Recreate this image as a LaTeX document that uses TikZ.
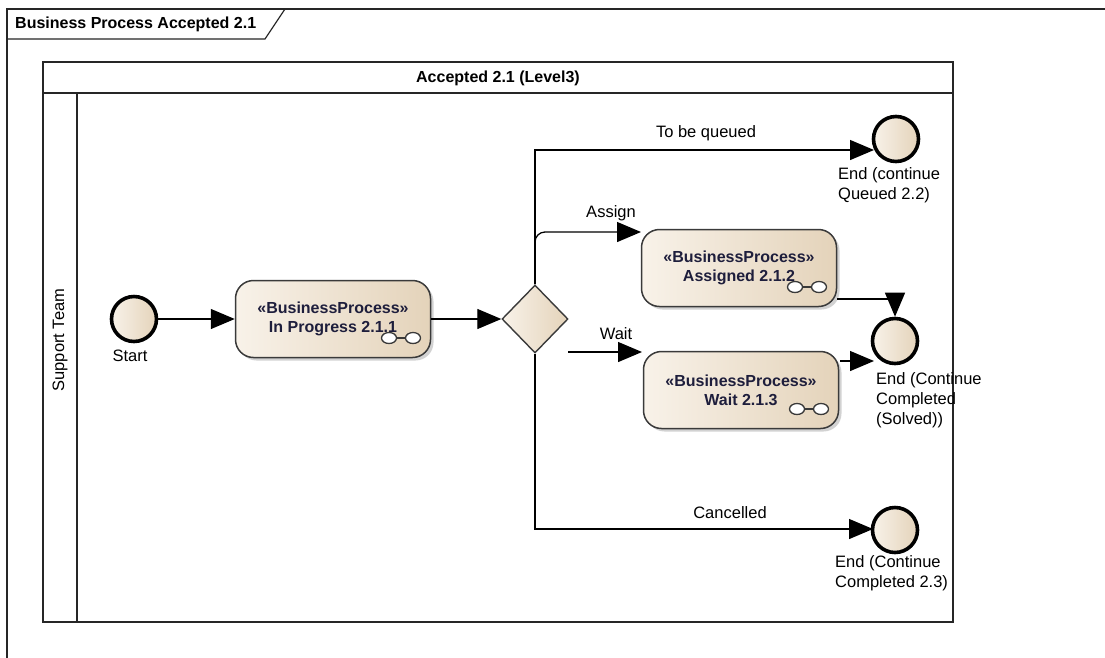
\documentclass[tikz,border=0pt]{standalone}
\usepackage{fontspec}
\setmainfont{Liberation Sans}
\usetikzlibrary{arrows.meta,shapes.geometric,shadows,calc}
\definecolor{bpline}{HTML}{3A3A3A}
\definecolor{bplight}{HTML}{F8F2E9}
\definecolor{bpdark}{HTML}{E4D3BA}
\definecolor{bptext}{HTML}{1E1E3C}
\begin{document}
\begin{tikzpicture}[x=1pt,y=-1pt,
  every node/.style={font=\fontsize{16.5}{19}\selectfont},
  frameline/.style={draw=black!85,line width=1.2pt},
  flow/.style={draw=black,line width=1.3pt,-{Triangle[length=24pt,width=20pt]}},
  event/.style={circle,draw=black,line width=3.6pt,minimum size=45pt,inner sep=0pt,
    left color=bplight,right color=bpdark},
  bpbox/.style={rectangle,rounded corners=18pt,draw=bpline,line width=1.5pt,
    minimum width=195pt,minimum height=77pt,align=center,text=bptext,
    font=\fontsize{16}{19}\selectfont\bfseries,
    left color=bplight,right color=bpdark,
    drop shadow={shadow xshift=3pt,shadow yshift=-3pt,opacity=0.35}},
  gate/.style={diamond,draw=bpline,line width=1.4pt,minimum width=66pt,minimum height=68pt,
    inner sep=0pt,left color=bplight,right color=bpdark},
  lbl/.style={text=black,inner sep=0pt},
  endlbl/.style={text=black,inner sep=0pt,align=left,anchor=north west,
    font=\fontsize{16.5}{20}\selectfont}]
\useasboundingbox (0,0) rectangle (1105,657);
\fill[white] (0,0) rectangle (1105,657);

% outer diagram frame with its name tab
\draw[frameline] (7,660) -- (7,9) -- (1110,9);
\draw[frameline] (7,39) -- (265,39) -- (285,9);
\node[lbl,anchor=west,font=\fontsize{16}{18}\selectfont\bfseries] (title) at (15,24) {Business Process Accepted 2.1};

% pool with its header and the lane
\draw[frameline] (43,62) rectangle (953,622);
\draw[frameline] (43,93) -- (953,93);
\draw[frameline] (77,93) -- (77,622);
\node[lbl,font=\fontsize{16}{18}\selectfont\bfseries] (pool) at (498,78) {Accepted 2.1 (Level3)};
\node[lbl,rotate=90] (lane) at (60,340) {Support Team};

% flow elements
\node[event] (start) at (134,319) {};
\node[lbl] (startlbl) at (130,356) {Start};

\node[bpbox] (inprog) at (333,319) {«BusinessProcess»\\In Progress 2.1.1};
\node[gate] (dia) at (535,319) {};
\node[bpbox] (assigned) at (739,268) {«BusinessProcess»\\Assigned 2.1.2};
\node[bpbox] (wait) at (741,390) {«BusinessProcess»\\Wait 2.1.3};

\node[event] (end1) at (896,139) {};
\node[endlbl] (end1lbl) at (838,167) {End (continue\\Queued 2.2)};
\node[event] (end2) at (895,341) {};
\node[endlbl] (end2lbl) at (876,372) {End (Continue\\Completed\\(Solved))};
\node[event] (end3) at (895,530) {};
\node[endlbl] (end3lbl) at (835,555) {End (Continue\\Completed 2.3)};

% link icons on the sub-process boxes
\foreach \b in {inprog,assigned,wait}{
  \draw[bpline,line width=1.3pt,fill=white]
    ($(\b.center)+(56,19)$) ellipse [x radius=7.5pt,y radius=5.5pt]
    ($(\b.center)+(80,19)$) ellipse [x radius=7.5pt,y radius=5.5pt];
  \draw[bpline,line width=1.3pt] ($(\b.center)+(63.5,19)$) -- ($(\b.center)+(72.5,19)$);
}

% free ends of connectors
\coordinate (qin) at (874,150);
\coordinate (ain) at (641,232);
\coordinate (wout) at (568,352);
\coordinate (win) at (642,352);
\coordinate (cin) at (873,529);
\coordinate (aout) at (837,299);
\coordinate (wout2) at (840,361);
\coordinate (win2) at (874,361);

% connectors
\draw[flow] (start) -- (inprog);
\draw[flow] (inprog) -- (dia);
\draw[flow] (dia.north) |- (qin);
\draw[flow,rounded corners=10pt] (dia.north) |- (ain);
\draw[flow] (wout) -- (win);
\draw[flow] (dia.south) |- (cin);
\draw[flow] (aout) -| (end2.north);
\draw[flow] (wout2) -- (win2);

% connector labels
\node[lbl] (lq) at (706,133) {To be queued};
\node[lbl] (la) at (611,213) {Assign};
\node[lbl] (lw) at (616,334) {Wait};
\node[lbl] (lc) at (730,513) {Cancelled};
\end{tikzpicture}
\end{document}
